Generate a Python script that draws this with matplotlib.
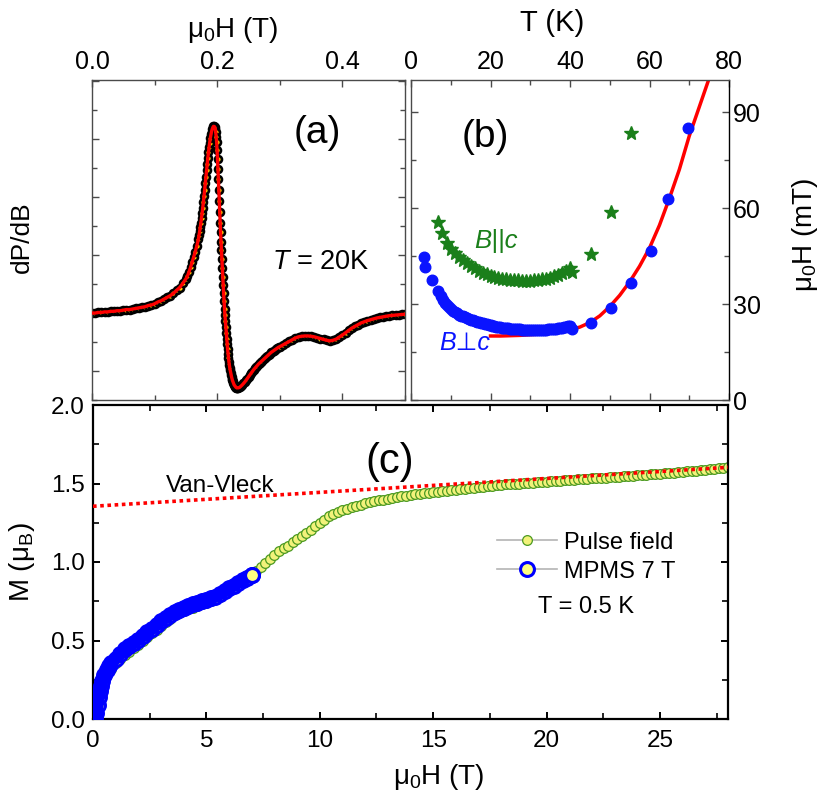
import numpy as np
import matplotlib
matplotlib.use("Agg")
import matplotlib.pyplot as plt
from matplotlib.ticker import MultipleLocator, FormatStrFormatter

plt.rcParams['font.family'] = ['Liberation Sans', 'DejaVu Sans']
plt.rcParams['mathtext.fontset'] = 'custom'
plt.rcParams['mathtext.rm'] = 'Liberation Sans'
plt.rcParams['mathtext.it'] = 'Liberation Sans:italic'

# ---------------- (a) ESR derivative spectrum, T = 20 K ----------------
# field grid (T): coarse on the flat parts, fine on the steep parts
esr_field = np.concatenate([
    np.linspace(0.000, 0.150, 31),
    np.linspace(0.1525, 0.1675, 7),
    np.linspace(0.170, 0.196, 27),
    np.linspace(0.197, 0.232, 51),
    np.linspace(0.234, 0.300, 34),
    np.linspace(0.305, 0.500, 40),
])
esr_signal = [
    1.00, 1.00, 1.01, 1.01, 1.02, 1.02, 1.03, 1.03, 1.04, 1.04,
    1.05, 1.06, 1.06, 1.07, 1.08, 1.09, 1.10, 1.11, 1.13, 1.14,
    1.16, 1.19, 1.21, 1.24, 1.27, 1.30, 1.34, 1.39, 1.44, 1.51, 1.59,
    1.64, 1.71, 1.79, 1.88, 1.97, 2.06, 2.16,
    2.28, 2.34, 2.41, 2.48, 2.56, 2.64, 2.73, 2.82, 2.92, 3.02,
    3.13, 3.24, 3.35, 3.46, 3.57, 3.67, 3.77, 3.86, 3.94, 4.02,
    4.08, 4.13, 4.17, 4.20, 4.22, 4.22, 4.21,
    4.18, 4.12, 4.04, 3.95, 3.82, 3.66, 3.49, 3.31, 3.12, 2.93,
    2.74, 2.56, 2.39, 2.23, 2.08, 1.93, 1.78, 1.63, 1.48, 1.34,
    1.20, 1.07, 0.96, 0.86, 0.76, 0.66, 0.56, 0.46, 0.38, 0.30,
    0.23, 0.16, 0.10, 0.05, 0.01, -0.03, -0.07, -0.10, -0.13, -0.16,
    -0.18, -0.20, -0.22, -0.24, -0.25, -0.26, -0.27, -0.28, -0.285, -0.29,
    -0.29,
    -0.29, -0.28, -0.26, -0.24, -0.215, -0.19, -0.16, -0.13, -0.10, -0.07,
    -0.04, -0.01, 0.02, 0.045, 0.07, 0.095, 0.12, 0.14, 0.16, 0.18,
    0.20, 0.22, 0.24, 0.26, 0.28, 0.30, 0.32, 0.335, 0.35, 0.365,
    0.38, 0.395, 0.41, 0.42,
    0.45, 0.48, 0.51, 0.54, 0.57, 0.59, 0.60, 0.605, 0.605, 0.60,
    0.59, 0.575, 0.56, 0.545, 0.53, 0.52, 0.53, 0.55, 0.585, 0.62,
    0.66, 0.70, 0.74, 0.77, 0.80, 0.83, 0.85, 0.87, 0.885, 0.90,
    0.915, 0.925, 0.935, 0.945, 0.955, 0.96, 0.965, 0.97, 0.975, 0.98,
]
assert len(esr_field) == len(esr_signal)

# ---------------- (b) resonance linewidth vs temperature ----------------
perp_T = [3.3, 3.6, 5.2, 6.9] + list(np.linspace(7.5, 40.0, 66)) + \
         [40.4, 45.4, 50.3, 55.3, 60.5, 64.7, 69.6]
perp_H = [44.8, 41.5, 37.6, 34.0,
          32.6, 31.3, 30.4, 29.6, 29.0, 28.4, 27.9, 27.5, 27.1, 26.7,
          26.4, 26.1, 25.8, 25.6, 25.3, 25.1, 24.9, 24.7, 24.5, 24.3,
          24.1, 24.0, 23.8, 23.6, 23.5, 23.3, 23.2, 23.0, 22.9, 22.8,
          22.7, 22.6, 22.5, 22.4, 22.35, 22.3, 22.25, 22.2, 22.15, 22.1,
          22.05, 22.0, 22.0, 22.0, 21.95, 21.9, 21.9, 21.9, 21.9, 21.9,
          21.95, 22.0, 22.0, 22.0, 22.05, 22.1, 22.15, 22.2, 22.3, 22.4,
          22.5, 22.6, 22.75, 22.9, 23.05, 23.2,
          22.3, 24.2, 28.7, 36.5, 46.7, 62.7, 85.0]

par_T = [6.7, 7.7, 9.0] + list(np.linspace(10, 40, 31)) + [40.4, 45.2, 50.3, 55.3]
par_H = [55.5, 52.3, 49.0,
         47.3, 46.0, 44.8, 43.7, 42.7, 41.8, 41.1, 40.4, 39.8, 39.3,
         38.9, 38.5, 38.2, 37.9, 37.7, 37.6, 37.5, 37.4, 37.3, 37.3,
         37.3, 37.4, 37.5, 37.7, 37.9, 38.2, 38.6, 39.0, 39.6, 40.3,
         41.2,
         40.0, 45.7, 58.9, 83.5]

fit_T = [20, 22.5, 25, 27.5, 30, 32.5, 35, 37.5, 40, 42.5, 45, 47.5,
         50, 52.5, 55, 57.5, 60, 62.5, 65, 67.5, 70, 72.5, 75, 77.5]
fit_H = [20.0, 20.0, 20.1, 20.2, 20.4, 20.6, 20.9, 21.3, 21.9, 22.8, 24.2, 26.3,
         29.2, 32.7, 36.9, 41.8, 47.5, 54.6, 63.0, 72.0, 82.5, 91.5, 100.5, 110.0]

# ---------------- (c) magnetization, T = 0.5 K ----------------
pulse_field = [0.05, 0.10, 0.15, 0.20, 0.25, 0.30, 0.35] + list(np.linspace(0.4, 28.0, 139))
pulse_M = [0.0, 0.01, 0.03, 0.06, 0.11, 0.15, 0.19,
           0.21, 0.28, 0.32, 0.355, 0.38, 0.405, 0.425, 0.45, 0.47, 0.495,
           0.52, 0.545, 0.57, 0.595, 0.62, 0.64, 0.66, 0.675, 0.69, 0.70,
           0.71, 0.72, 0.73, 0.74, 0.75, 0.765, 0.78, 0.80, 0.82, 0.84,
           0.86, 0.88, 0.90, 0.92, 0.945, 0.97, 0.995, 1.02, 1.045, 1.07,
           1.09, 1.105, 1.125, 1.145, 1.165, 1.185, 1.205, 1.23, 1.25, 1.27,
           1.29, 1.305, 1.32, 1.33, 1.34, 1.35, 1.358, 1.366, 1.373, 1.38,
           1.386, 1.392, 1.398, 1.403, 1.408, 1.413, 1.418, 1.422, 1.426, 1.43,
           1.434, 1.438, 1.442, 1.446, 1.449, 1.452, 1.455, 1.458, 1.461, 1.464,
           1.467, 1.47, 1.473, 1.476, 1.479, 1.482, 1.485, 1.488, 1.491, 1.494,
           1.496, 1.498, 1.50, 1.502, 1.504, 1.506, 1.508, 1.51, 1.512, 1.514,
           1.516, 1.518, 1.52, 1.522, 1.524, 1.526, 1.528, 1.53, 1.532, 1.534,
           1.536, 1.538, 1.54, 1.542, 1.544, 1.546, 1.548, 1.55, 1.552, 1.554,
           1.556, 1.558, 1.56, 1.562, 1.565, 1.567, 1.57, 1.572, 1.575, 1.577,
           1.58, 1.582, 1.585, 1.588, 1.59, 1.593, 1.596, 1.599, 1.602]
assert len(pulse_field) == len(pulse_M)

mpms_field = [0.10, 0.15, 0.20, 0.25, 0.30, 0.35, 0.40, 0.50, 0.60, 0.70, 0.80,
              1.0, 1.2, 1.4, 1.6, 1.8, 2.0, 2.2, 2.4, 2.6, 2.8, 3.0, 3.2, 3.4,
              3.6, 3.8, 4.0, 4.2, 4.4, 4.6, 4.8, 5.0, 5.2, 5.4, 5.6, 5.8, 6.0,
              6.2, 6.4, 6.6, 6.8, 7.0]
mpms_M = [0.0, 0.04, 0.09, 0.14, 0.18, 0.21, 0.24, 0.28, 0.31, 0.335, 0.355,
          0.385, 0.415, 0.445, 0.465, 0.485, 0.505, 0.53, 0.555, 0.575, 0.60,
          0.625, 0.645, 0.665, 0.68, 0.695, 0.708, 0.72, 0.73, 0.74, 0.75,
          0.758, 0.768, 0.78, 0.797, 0.815, 0.832, 0.85, 0.868, 0.885, 0.90,
          0.917]

vv_field = [0, 28]
vv_M = [1.355, 1.603]

# ---------------- figure ----------------
W, H = 830, 801
fig = plt.figure(figsize=(W / 100, H / 100), dpi=100)


def box(l, t, r, b):
    return [l / W, 1 - b / H, (r - l) / W, (b - t) / H]


ax_a = fig.add_axes(box(92, 80, 405, 400))
ax_b = fig.add_axes(box(411, 80, 729, 400))
ax_c = fig.add_axes(box(93, 405, 728, 719))

grey = '#4a4a4a'
for ax in (ax_a, ax_b):
    for s in ax.spines.values():
        s.set_color(grey)
        s.set_linewidth(1.0)
    ax.tick_params(which='both', direction='in', colors=grey, labelcolor='black',
                   top=True, bottom=True, left=True, right=True, labelsize=18)
    ax.tick_params(which='major', length=5, width=1)
    ax.tick_params(which='minor', length=3.5, width=1)
for s in ax_c.spines.values():
    s.set_linewidth(1.6)
ax_c.tick_params(which='both', direction='in', top=True, right=True, labelsize=17.5)
ax_c.tick_params(which='major', length=5, width=1.4)
ax_c.tick_params(which='minor', length=4, width=1.2)

# (a)
ax_a.plot(esr_field, esr_signal, 'o', ms=5.0, mfc='#ffd800', mec='black', mew=1.9, zorder=2)
ax_a.plot(esr_field, esr_signal, '-', color='#ff0000', lw=2.4, zorder=3)
ax_a.set_xlim(0, 0.5)
ax_a.set_ylim(-0.5, 5.02)
ax_a.xaxis.set_major_locator(MultipleLocator(0.2))
ax_a.xaxis.set_minor_locator(MultipleLocator(0.1))
ax_a.xaxis.set_major_formatter(FormatStrFormatter('%.1f'))
ax_a.yaxis.set_major_locator(MultipleLocator(1.0))
ax_a.yaxis.set_minor_locator(MultipleLocator(0.5))
ax_a.tick_params(axis='x', labeltop=True, labelbottom=False, pad=4)
ax_a.tick_params(axis='y', labelleft=False)
ax_a.text(0.72, 0.835, '(a)', transform=ax_a.transAxes, fontsize=28, ha='center', va='center')
ax_a.text(0.73, 0.43, '$T$ = 20K', transform=ax_a.transAxes, fontsize=19.5, ha='center', va='center')

# (b)
ax_b.plot(fit_T, fit_H, '-', color='#ff0000', lw=2.5, zorder=2)
ax_b.plot(perp_T, perp_H, 'o', ms=7.6, color='#0a14ff', mec='#0a14ff', zorder=3)
ax_b.plot(par_T, par_H, '*', ms=10.5, color='#1a7f1a', mec='#1a7f1a', zorder=3)
ax_b.set_xlim(0, 80)
ax_b.set_ylim(0, 100)
ax_b.xaxis.set_major_locator(MultipleLocator(20))
ax_b.xaxis.set_minor_locator(MultipleLocator(10))
ax_b.yaxis.set_major_locator(MultipleLocator(30))
ax_b.yaxis.set_minor_locator(MultipleLocator(15))
ax_b.tick_params(axis='x', labeltop=True, labelbottom=False, pad=4)
ax_b.tick_params(axis='y', labelleft=False, labelright=True, pad=3)
ax_b.spines['right'].set_color('black')
ax_b.text(0.233, 0.822, '(b)', transform=ax_b.transAxes, fontsize=28, ha='center', va='center')
ax_b.text(21.3, 49.6, 'B||c', color='#1a7f1a', style='italic', fontsize=18.5, ha='center', va='center')
ax_b.text(13.6, 17.8, 'B\u22a5c', color='#0a14ff', style='italic', fontsize=18, ha='center', va='center')

# (c)
ax_c.plot(pulse_field, pulse_M, '-o', color='#b4b4b4', lw=1.2, ms=7.0, mfc='#f2f27a',
          mec='#4c9a22', mew=0.9, zorder=2, label='Pulse field')
ax_c.plot(mpms_field, mpms_M, '-o', color='#b4b4b4', lw=1.2, ms=10, mfc='#ffff80',
          mec='#0000ff', mew=2.2, zorder=3, label='MPMS 7 T')
ax_c.plot(mpms_field[:-1], mpms_M[:-1], '-', color='#0000ff', lw=9, solid_capstyle='round', zorder=4)
ax_c.plot(mpms_field[-1:], mpms_M[-1:], 'o', ms=10, mfc='#ffff80', mec='#0000ff', mew=2.2, zorder=5)
ax_c.plot(vv_field, vv_M, color='#ff0000', lw=2.6, linestyle=(0, (1, 1)), zorder=6)
ax_c.set_xlim(0, 28)
ax_c.set_ylim(0, 2.0)
ax_c.xaxis.set_major_locator(MultipleLocator(5))
ax_c.xaxis.set_minor_locator(MultipleLocator(2.5))
ax_c.yaxis.set_major_locator(MultipleLocator(0.5))
ax_c.yaxis.set_minor_locator(MultipleLocator(0.25))
ax_c.yaxis.set_major_formatter(FormatStrFormatter('%.1f'))
ax_c.tick_params(axis='x', pad=8)
ax_c.tick_params(axis='y', pad=6)
ax_c.text(13.1, 1.64, '(c)', fontsize=30, ha='center', va='center')
ax_c.text(5.6, 1.484, 'Van-Vleck', fontsize=17.5, ha='center', va='center')
ax_c.legend(loc='upper left', bbox_to_anchor=(0.637, 0.597), frameon=False, fontsize=17,
            handlelength=2.5, handletextpad=0.3, labelspacing=0.3, borderpad=0,
            borderaxespad=0)
ax_c.text(0.701, 0.357, 'T = 0.5 K', transform=ax_c.transAxes, fontsize=17, ha='left', va='center')


# axis labels placed in pixel positions
def ftext(x, y, s, **kw):
    fig.text(x / W, 1 - y / H, s, ha='center', va='center', **kw)


ftext(233, 30, r'$\mathregular{\mu_0}$H (T)', fontsize=20)
ftext(552, 23, 'T (K)', fontsize=21)
ftext(22, 237, 'dP/dB', fontsize=19, rotation=90)
ftext(805, 235, r'$\mathregular{\mu_0}$H (mT)', fontsize=20, rotation=90)
ftext(22, 562, r'M ($\mathregular{\mu_B}$)', fontsize=20, rotation=90)
ftext(439, 777, r'$\mathregular{\mu_0}$H (T)', fontsize=20)

fig.savefig('out.png', dpi=100)
